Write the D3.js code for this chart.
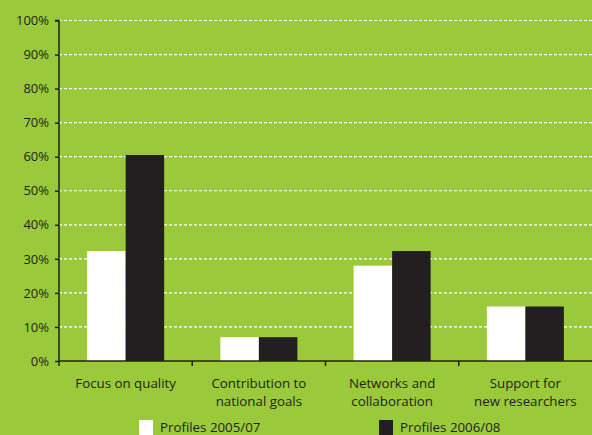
<!DOCTYPE html>
<html>
<head>
<meta charset="utf-8">
<script src="https://cdn.jsdelivr.net/npm/d3@7"></script>
<style>
  html, body { margin: 0; padding: 0; background: #9aca3c; }
  svg { display: block; }
  text { font-family: "Open Sans", "DejaVu Sans", sans-serif; fill: #231f20; }
</style>
</head>
<body>
<svg id="chart" width="592" height="435"></svg>
<script>
// Categories (multi-line labels) and series values in percent
const categories = [
  ["Focus on quality"],
  ["Contribution to", "national goals"],
  ["Networks and", "collaboration"],
  ["Support for", "new researchers"]
];
const seriesNames = ["Profiles 2005/07", "Profiles 2006/08"];
const profiles0507 = [32.3, 7, 28, 16];
const profiles0608 = [60.5, 7, 32.3, 16];
const yTicks = [0, 10, 20, 30, 40, 50, 60, 70, 80, 90, 100];

const seriesColors = ["#ffffff", "#231f20"];

const svg = d3.select("#chart");
const width = 592, height = 435;
const margin = { left: 59, right: 0, top: 20.5, bottom: 74 };

const catKeys = categories.map((c, i) => i);
const x = d3.scaleBand().domain(catKeys).range([margin.left, width - margin.right]).paddingInner(0).paddingOuter(0);
const xSub = d3.scaleBand().domain([0, 1]).range([0, x.bandwidth()]).paddingInner(0).paddingOuter(0.73);
const y = d3.scaleLinear().domain([0, 100]).range([height - margin.bottom, margin.top]);

// Dashed white gridlines
svg.append("g")
  .selectAll("line")
  .data(yTicks.filter(d => d > 0))
  .join("line")
  .attr("x1", margin.left)
  .attr("x2", width)
  .attr("y1", d => y(d))
  .attr("y2", d => y(d))
  .attr("stroke", "#ffffff")
  .attr("stroke-width", 1.2)
  .attr("stroke-dasharray", "3,2");

// Bars
const series = [profiles0507, profiles0608];
const barGroup = svg.append("g");
series.forEach((vals, si) => {
  barGroup.append("g")
    .selectAll("rect")
    .data(vals)
    .join("rect")
    .attr("x", (d, i) => x(i) + xSub(si))
    .attr("width", xSub.bandwidth())
    .attr("y", d => y(d))
    .attr("height", d => y(0) - y(d))
    .attr("fill", seriesColors[si]);
});

// Y axis
const yAxis = d3.axisLeft(y).tickValues(yTicks).tickFormat(d => d + "%").tickSize(4).tickPadding(6);
const yg = svg.append("g").attr("transform", `translate(${margin.left},0)`).call(yAxis);
yg.select(".domain").attr("stroke", "#231f20").attr("stroke-width", 1.5).attr("d", `M-4,${y(100)}H0V${y(0)}`);
yg.selectAll(".tick line").attr("stroke", "#231f20").attr("stroke-width", 1.5);
yg.selectAll(".tick text").attr("font-size", 13).attr("fill", "#231f20")
  .attr("font-family", "'Open Sans', sans-serif");

// X axis baseline and boundary ticks
const xg = svg.append("g");
xg.append("line")
  .attr("x1", margin.left).attr("x2", width)
  .attr("y1", y(0)).attr("y2", y(0))
  .attr("stroke", "#231f20").attr("stroke-width", 1.5);
xg.selectAll("line.bt")
  .data(catKeys)
  .join("line")
  .attr("class", "bt")
  .attr("x1", d => x(d)).attr("x2", d => x(d))
  .attr("y1", y(0)).attr("y2", y(0) + 5)
  .attr("stroke", "#231f20").attr("stroke-width", 1.5);

// Category labels
const labelG = xg.selectAll("text.cat")
  .data(categories)
  .join("text")
  .attr("class", "cat")
  .attr("text-anchor", "middle")
  .attr("font-size", 13.3)
  .attr("x", (d, i) => x(i) + x.bandwidth() / 2)
  .attr("y", 388);
labelG.selectAll("tspan")
  .data(d => d)
  .join("tspan")
  .attr("x", function () { return d3.select(this.parentNode).attr("x"); })
  .attr("dy", (d, i) => i === 0 ? 0 : 17.5)
  .text(d => d);

// Legend
const legendPos = [139, 379];
const legend = svg.append("g");
seriesNames.forEach((name, i) => {
  legend.append("rect")
    .attr("x", legendPos[i]).attr("y", 420)
    .attr("width", 14).attr("height", 15)
    .attr("fill", seriesColors[i]);
  legend.append("text")
    .attr("x", legendPos[i] + 21).attr("y", 431.5)
    .attr("font-size", 13.3)
    .text(name);
});
</script>
</body>
</html>
